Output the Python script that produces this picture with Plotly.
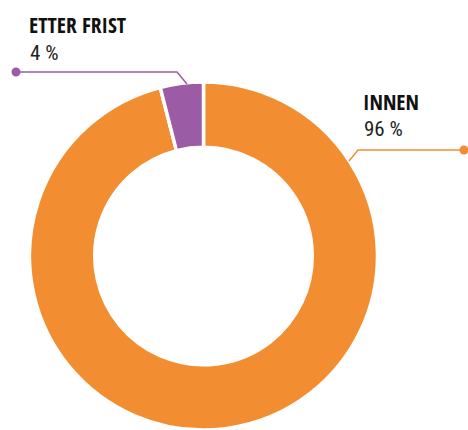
import plotly.graph_objects as go

labels = ["ETTER FRIST", "INNEN"]
values = [4, 96]
pct_text = ["4 %", "96 %"]
colors = ["#9B5BA5", "#F28E31"]

W, H = 468, 430

# pie geometry in window pixels
CX, CY, R = 203.5, 256.5, 174.5

def px(x):
    return x / W

def py(y):
    return 1 - y / H

# ETTER FRIST slice ends at 12 o'clock, going clockwise starting with INNEN
fig = go.Figure(go.Pie(
    labels=labels[::-1], values=values[::-1], sort=False, direction="clockwise",
    rotation=0, hole=0.625, textinfo="none", hoverinfo="label+percent",
    marker=dict(colors=colors[::-1], line=dict(color="white", width=3.5)),
    domain=dict(x=[px(CX - R), px(CX + R)], y=[max(0, py(CY + R)), py(CY - R)]),
    showlegend=False,
))

BOLD = "Open Sans Condensed, Roboto Condensed, sans-serif"
REG = "Roboto Condensed, sans-serif"

annos = [
    (labels[0], pct_text[0], 28, 25, 53),
    (labels[1], pct_text[1], 362, 101, 129),
]
annotations = []
for name, pct, x, y1, y2 in annos:
    annotations.append(dict(x=px(x - 1), y=py(y1), xref="paper", yref="paper", text="<b>" + name + "</b>",
                            showarrow=False, xanchor="left", yanchor="middle",
                            font=dict(family=BOLD, size=21.5, color="#111111")))
    annotations.append(dict(x=px(x), y=py(y2), xref="paper", yref="paper", text=pct,
                            showarrow=False, xanchor="left", yanchor="middle",
                            font=dict(family=REG, size=21, color="#222222")))

shapes = []
leaders = [
    (colors[0], [(16, 72), (177, 72), (187, 84)]),
    (colors[1], [(464, 150), (358, 150), (349, 161)]),
]
for col, pts in leaders:
    path = "M " + " L ".join(f"{px(a)},{py(b)}" for a, b in pts)
    shapes.append(dict(type="path", path=path, xref="paper", yref="paper",
                       line=dict(color=col, width=1.5)))
    x0, y0 = pts[0]
    shapes.append(dict(type="circle", xref="paper", yref="paper",
                       x0=px(x0 - 4.5), x1=px(x0 + 4.5), y0=py(y0 + 4.5), y1=py(y0 - 4.5),
                       fillcolor=col, line=dict(width=0)))

fig.update_layout(width=W, height=H, margin=dict(l=0, r=0, t=0, b=0),
                  paper_bgcolor="white", plot_bgcolor="white",
                  annotations=annotations, shapes=shapes)

fig.write_html("out.html", config={"displayModeBar": False},
               post_script="document.body.style.margin='0';document.body.style.overflow='hidden';")
